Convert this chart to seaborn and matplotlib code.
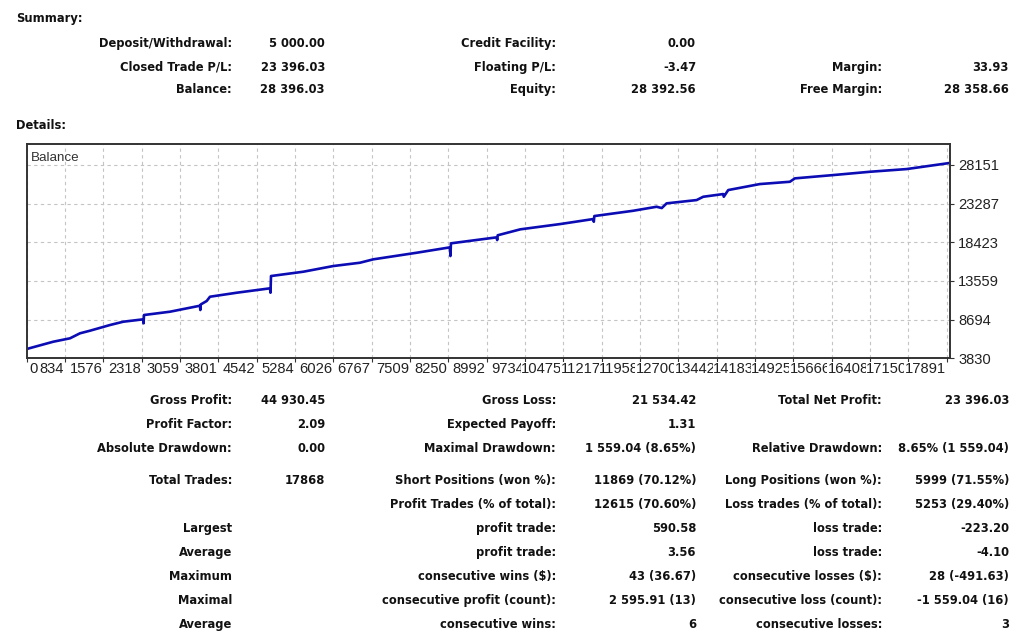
import matplotlib
matplotlib.use('Agg')
import matplotlib.pyplot as plt
import matplotlib.transforms as mtransforms
import seaborn as sns

# ── Balance curve (trade number -> balance) ─────────────────────────────
trade_no = [0, 515, 838, 1031, 1225, 1612, 1869, 2256, 2262, 2270, 2773,
            3353, 3360, 3368, 3483, 3547, 4064, 4708, 4718, 4728, 5352,
            5933, 6449, 6707, 7547, 8191, 8200, 8210, 9095, 9105, 9115,
            9552, 10326, 10964, 10975, 10985, 11738, 12190, 12290, 12384,
            12965, 13092, 13479, 13490, 13576, 14188, 14769, 14866, 15608,
            16318, 17028, 17868]
balance = [5000, 5917, 6344, 6973, 7300, 8016, 8431, 8732, 8230, 9273, 9688,
           10442, 9901, 10600, 11033, 11573, 12076, 12629, 12076, 14175, 14716,
           15432, 15847, 16274, 17104, 17783, 16689, 18286, 19040, 18700, 19300,
           20046, 20712, 21340, 21001, 21717, 22383, 22886, 22722, 23314,
           23728, 24143, 24483, 24143, 24986, 25740, 26029, 26456, 26871,
           27286, 27625, 28396]

y_tick_labels = ['3830', '8694', '13559', '18423', '23287', '28151']
x_tick_labels = ['0', '834', '1576', '2318', '3059', '3801', '4542', '5284',
                 '6026', '6767', '7509', '8250', '8992', '9734', '10475',
                 '11217', '11958', '12700', '13442', '14183', '14925',
                 '15666', '16408', '17150', '17891']

# ── Summary block ───────────────────────────────────
sum_labels_1 = ['Deposit/Withdrawal:', 'Closed Trade P/L:', 'Balance:']
sum_values_1 = ['5 000.00', '23 396.03', '28 396.03']
sum_labels_2 = ['Credit Facility:', 'Floating P/L:', 'Equity:']
sum_values_2 = ['0.00', '-3.47', '28 392.56']
sum_labels_3 = ['', 'Margin:', 'Free Margin:']
sum_values_3 = ['', '33.93', '28 358.66']

# ── Details block ───────────────────────────────────
det_labels_1 = ['Gross Profit:', 'Profit Factor:', 'Absolute Drawdown:',
                'Total Trades:', '', 'Largest', 'Average', 'Maximum',
                'Maximal', 'Average']
det_values_1 = ['44 930.45', '2.09', '0.00', '17868', '', '', '', '', '', '']
det_labels_2 = ['Gross Loss:', 'Expected Payoff:', 'Maximal Drawdown:',
                'Short Positions (won %):', 'Profit Trades (% of total):',
                'profit trade:', 'profit trade:', 'consecutive wins ($):',
                'consecutive profit (count):', 'consecutive wins:']
det_values_2 = ['21 534.42', '1.31', '1 559.04 (8.65%)', '11869 (70.12%)',
                '12615 (70.60%)', '590.58', '3.56', '43 (36.67)',
                '2 595.91 (13)', '6']
det_labels_3 = ['Total Net Profit:', '', 'Relative Drawdown:',
                'Long Positions (won %):', 'Loss trades (% of total):',
                'loss trade:', 'loss trade:', 'consecutive losses ($):',
                'consecutive loss (count):', 'consecutive losses:']
det_values_3 = ['23 396.03', '', '8.65% (1 559.04)', '5999 (71.55%)',
                '5253 (29.40%)', '-223.20', '-4.10', '28 (-491.63)',
                '-1 559.04 (16)', '3']

sns.set_style('white')
plt.rcParams['font.family'] = ['DejaVu Sans']

W, H = 1024, 644
fig = plt.figure(figsize=(W / 100, H / 100), dpi=100)


def px(x, y):
    # row centre -> baseline, so mixed descenders line up
    return x / W, 1 - (y + 4) / H


BOLD = dict(fontsize=8.3, fontweight='bold', color='#111111', va='baseline')
col_x = [232, 325, 556, 696, 882, 1009]

fig.text(*px(16, 18), 'Summary:', ha='left', **BOLD)
fig.text(*px(16, 125), 'Details:', ha='left', **BOLD)

sum_rows = [43, 67, 89]
sum_cols = [sum_labels_1, sum_values_1, sum_labels_2, sum_values_2,
            sum_labels_3, sum_values_3]
for cx, col in zip(col_x, sum_cols):
    for ry, s in zip(sum_rows, col):
        fig.text(*px(cx, ry), s, ha='right', **BOLD)

det_rows = [400, 424, 448, 480, 504, 528, 552, 576, 600, 624]
det_cols = [det_labels_1, det_values_1, det_labels_2, det_values_2,
            det_labels_3, det_values_3]
for cx, col in zip(col_x, det_cols):
    for ry, s in zip(det_rows, col):
        fig.text(*px(cx, ry), s, ha='right', **BOLD)

# ── Balance chart ───────────────────────────────────
left, right, top, bottom = 26.7, 950, 144, 358.3
ax = fig.add_axes([left / W, 1 - bottom / H, (right - left) / W, (bottom - top) / H])

sns.lineplot(x=trade_no, y=balance, ax=ax, color='#0c0cb4', linewidth=1.9,
             estimator=None, sort=False)

AXFONT = ['Liberation Sans', 'DejaVu Sans']
AXSIZE = 10.6

y_step = 4864.2
y_min = float(y_tick_labels[0])
ax.set_ylim(y_min, y_min + 5.54 * y_step)
ax.set_yticks([y_min + k * y_step for k in range(len(y_tick_labels))])
ax.set_yticklabels(y_tick_labels, family=AXFONT)
ax.yaxis.tick_right()

n_trades = trade_no[-1]
ax.set_xlim(0, n_trades)
x_step = n_trades / 24.09
x_ticks = [k * x_step for k in range(len(x_tick_labels))]
ax.set_xticks(x_ticks)
ax.set_xticklabels([])

ax.tick_params(axis='y', direction='out', length=3, width=0.8, pad=3,
               labelsize=AXSIZE, labelcolor='#222222', color='#333333',
               right=True, left=False)
ax.tick_params(axis='x', direction='out', length=3, width=0.8,
               color='#333333', bottom=True)

ax.grid(True, color='#c4c4c4', linestyle=(0, (3, 3)), linewidth=0.8)
for sp in ax.spines.values():
    sp.set_color('#333333')
    sp.set_linewidth(1.4)

# x labels, right aligned to their gridline, later ones painting over earlier ones
trans = ax.get_xaxis_transform()
for k, (xv, lab) in enumerate(zip(x_ticks, x_tick_labels)):
    if k == 0:
        t = mtransforms.offset_copy(trans, fig=fig, x=3, y=-4, units='dots')
        ha = 'left'
    else:
        t = mtransforms.offset_copy(trans, fig=fig, x=-1, y=-4, units='dots')
        ha = 'right'
    ax.text(xv, 0, lab, transform=t, ha=ha, va='top', fontsize=AXSIZE,
            family=AXFONT, color='#222222', clip_on=False, zorder=10 + k,
            bbox=dict(facecolor='white', edgecolor='none', pad=0.3))

ax.text(0.005, 0.965, 'Balance', transform=ax.transAxes, ha='left', va='top',
        fontsize=9.6, family=AXFONT, color='#333333')

plt.savefig('out.png', dpi=100)
